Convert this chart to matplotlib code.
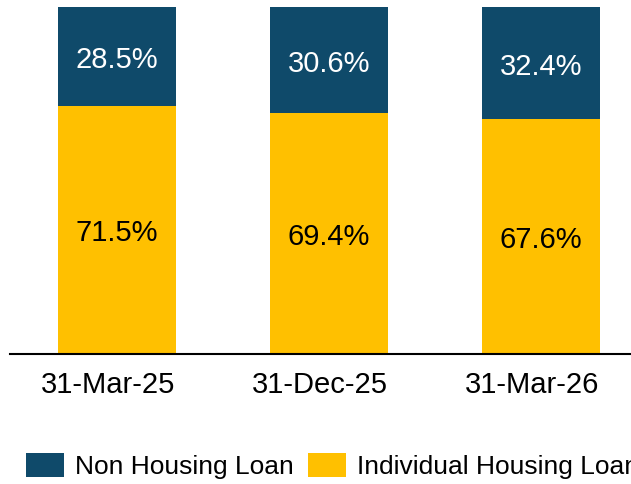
import matplotlib
matplotlib.use("Agg")
import matplotlib.pyplot as plt
import matplotlib.transforms as mtransforms
import numpy as np

categories = ["31-Mar-25", "31-Dec-25", "31-Mar-26"]
individual_housing = [71.5, 69.4, 67.6]
non_housing = [28.5, 30.6, 32.4]
series_names = ["Non Housing Loan", "Individual Housing Loan"]

plt.rcParams['font.family'] = ['Liberation Sans', 'DejaVu Sans']

W, H = 631, 484
fig = plt.figure(figsize=(W / 100, H / 100), dpi=100)
ax = fig.add_axes([10 / W, (H - 354) / H, 637 / W, 347 / H])

blue = "#0F4A6A"
yellow = "#FFC000"
x = np.arange(len(categories))
width = 0.557

b1 = ax.bar(x, individual_housing, width, color=yellow, label=series_names[1])
b2 = ax.bar(x, non_housing, width, bottom=individual_housing, color=blue, label=series_names[0])

# baseline offset (points) so that digit glyphs are centred on the segment
off = -11.5 * 72 / 100
for i in range(len(categories)):
    ax.annotate(f"{individual_housing[i]:.1f}%", (x[i], individual_housing[i] / 2),
                xytext=(0, off), textcoords="offset points",
                ha="center", va="baseline", fontsize=21, color="black")
    ax.annotate(f"{non_housing[i]:.1f}%", (x[i], individual_housing[i] + non_housing[i] / 2),
                xytext=(0, off), textcoords="offset points",
                ha="center", va="baseline", fontsize=21, color="white")

ax.set_xlim(-0.505, 2.5)
ax.set_ylim(0, 100)
ax.set_xticks(x)
ax.set_xticklabels(categories, fontsize=21)
ax.tick_params(axis="x", length=0, pad=12)
shift = mtransforms.ScaledTranslation(-9 / 100, 0, fig.dpi_scale_trans)
for lbl in ax.get_xticklabels():
    lbl.set_transform(lbl.get_transform() + shift)
ax.set_yticks([])
for s in ["top", "right", "left"]:
    ax.spines[s].set_visible(False)
ax.spines["bottom"].set_linewidth(1.5)
ax.spines["bottom"].set_color("black")

fig.legend([b2, b1], series_names, loc="center left",
           bbox_to_anchor=(26 / W, (H - 466) / H), ncol=2, frameon=False,
           fontsize=19, handlelength=1.44, handleheight=1.04,
           handletextpad=0.42, columnspacing=0.53, borderpad=0, borderaxespad=0)

fig.savefig("out.png", dpi=100)
